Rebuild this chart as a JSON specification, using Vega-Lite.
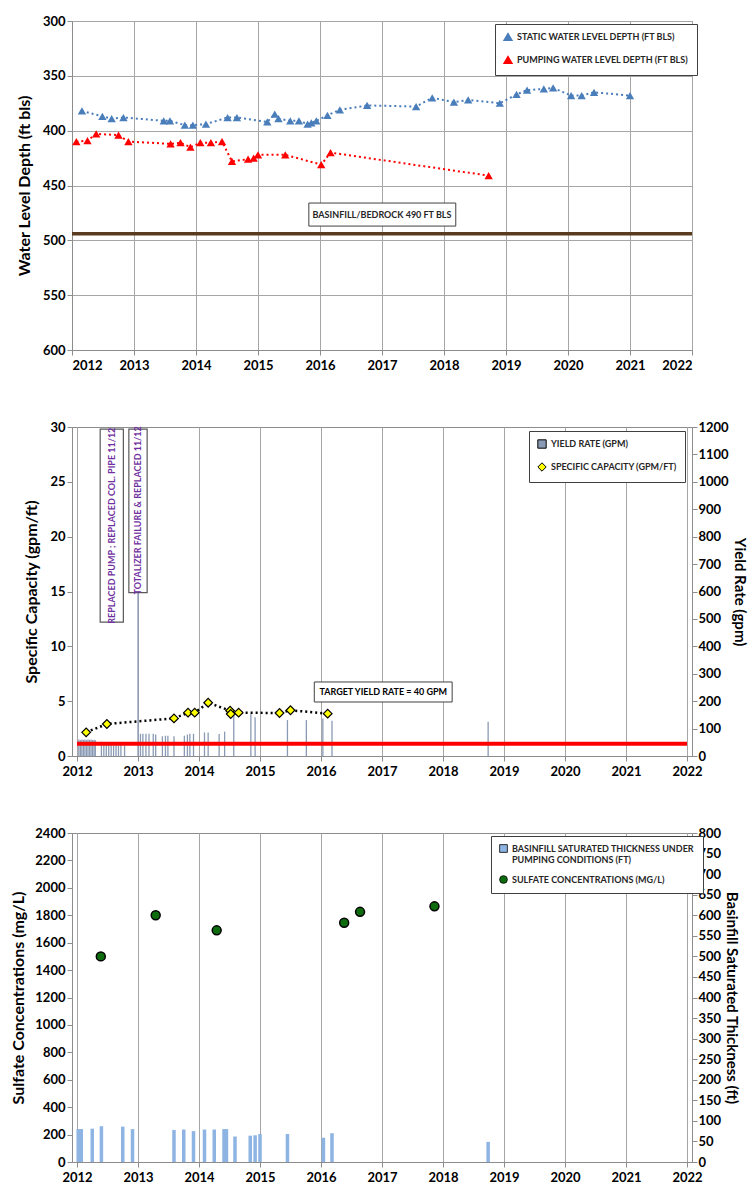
{
  "$schema": "https://vega.github.io/schema/vega-lite/v6.json",
  "background": "white",
  "padding": {"left": 10, "top": 14, "right": 3, "bottom": 5},
  "spacing": 47,
  "resolve": {"scale": {"color": "independent", "shape": "independent"}, "legend": {"color": "independent", "shape": "independent"}},
  "config": {
    "font": "Lato",
    "view": {"stroke": "#8c8c8c", "strokeWidth": 1},
    "axis": {
      "labelFont": "Lato", "labelFontWeight": "bold", "labelFontSize": 13, "labelColor": "#000000",
      "titleFont": "Lato", "titleFontWeight": "bold", "titleFontSize": 16, "titleColor": "#000000",
      "gridColor": "#a6a6a6", "gridWidth": 1, "gridOpacity": 1,
      "domainColor": "#8c8c8c", "tickColor": "#8c8c8c", "tickSize": 5
    },
    "legend": {
      "labelFont": "Lato", "labelFontWeight": "bold", "labelFontSize": 9, "labelColor": "#262626",
      "fillColor": "white", "strokeColor": "#404040", "padding": 8, "rowPadding": 9, "labelLimit": 400
    }
  },
  "datasets": {
    "levels": [
      {"year": 2012.16, "depth": 382, "series": "Static Water Level Depth (ft bls)"},
      {"year": 2012.49, "depth": 387, "series": "Static Water Level Depth (ft bls)"},
      {"year": 2012.64, "depth": 389, "series": "Static Water Level Depth (ft bls)"},
      {"year": 2012.83, "depth": 388, "series": "Static Water Level Depth (ft bls)"},
      {"year": 2013.48, "depth": 391, "series": "Static Water Level Depth (ft bls)"},
      {"year": 2013.58, "depth": 391, "series": "Static Water Level Depth (ft bls)"},
      {"year": 2013.82, "depth": 395, "series": "Static Water Level Depth (ft bls)"},
      {"year": 2013.95, "depth": 395, "series": "Static Water Level Depth (ft bls)"},
      {"year": 2014.16, "depth": 394, "series": "Static Water Level Depth (ft bls)"},
      {"year": 2014.51, "depth": 388, "series": "Static Water Level Depth (ft bls)"},
      {"year": 2014.66, "depth": 388, "series": "Static Water Level Depth (ft bls)"},
      {"year": 2015.15, "depth": 392, "series": "Static Water Level Depth (ft bls)"},
      {"year": 2015.27, "depth": 385, "series": "Static Water Level Depth (ft bls)"},
      {"year": 2015.33, "depth": 389, "series": "Static Water Level Depth (ft bls)"},
      {"year": 2015.52, "depth": 391, "series": "Static Water Level Depth (ft bls)"},
      {"year": 2015.66, "depth": 391, "series": "Static Water Level Depth (ft bls)"},
      {"year": 2015.80, "depth": 394, "series": "Static Water Level Depth (ft bls)"},
      {"year": 2015.86, "depth": 393, "series": "Static Water Level Depth (ft bls)"},
      {"year": 2015.94, "depth": 391, "series": "Static Water Level Depth (ft bls)"},
      {"year": 2016.12, "depth": 386, "series": "Static Water Level Depth (ft bls)"},
      {"year": 2016.32, "depth": 381, "series": "Static Water Level Depth (ft bls)"},
      {"year": 2016.76, "depth": 377, "series": "Static Water Level Depth (ft bls)"},
      {"year": 2017.55, "depth": 378, "series": "Static Water Level Depth (ft bls)"},
      {"year": 2017.81, "depth": 370, "series": "Static Water Level Depth (ft bls)"},
      {"year": 2018.16, "depth": 374, "series": "Static Water Level Depth (ft bls)"},
      {"year": 2018.39, "depth": 372, "series": "Static Water Level Depth (ft bls)"},
      {"year": 2018.90, "depth": 375, "series": "Static Water Level Depth (ft bls)"},
      {"year": 2019.17, "depth": 367, "series": "Static Water Level Depth (ft bls)"},
      {"year": 2019.34, "depth": 363, "series": "Static Water Level Depth (ft bls)"},
      {"year": 2019.61, "depth": 362, "series": "Static Water Level Depth (ft bls)"},
      {"year": 2019.76, "depth": 361, "series": "Static Water Level Depth (ft bls)"},
      {"year": 2020.05, "depth": 368, "series": "Static Water Level Depth (ft bls)"},
      {"year": 2020.22, "depth": 368, "series": "Static Water Level Depth (ft bls)"},
      {"year": 2020.42, "depth": 365, "series": "Static Water Level Depth (ft bls)"},
      {"year": 2021.00, "depth": 368, "series": "Static Water Level Depth (ft bls)"},
      {"year": 2012.07, "depth": 410, "series": "Pumping Water Level Depth (ft bls)"},
      {"year": 2012.25, "depth": 409, "series": "Pumping Water Level Depth (ft bls)"},
      {"year": 2012.39, "depth": 403, "series": "Pumping Water Level Depth (ft bls)"},
      {"year": 2012.75, "depth": 404, "series": "Pumping Water Level Depth (ft bls)"},
      {"year": 2012.91, "depth": 410, "series": "Pumping Water Level Depth (ft bls)"},
      {"year": 2013.59, "depth": 412, "series": "Pumping Water Level Depth (ft bls)"},
      {"year": 2013.75, "depth": 411, "series": "Pumping Water Level Depth (ft bls)"},
      {"year": 2013.91, "depth": 415, "series": "Pumping Water Level Depth (ft bls)"},
      {"year": 2014.07, "depth": 411, "series": "Pumping Water Level Depth (ft bls)"},
      {"year": 2014.24, "depth": 411, "series": "Pumping Water Level Depth (ft bls)"},
      {"year": 2014.42, "depth": 410, "series": "Pumping Water Level Depth (ft bls)"},
      {"year": 2014.58, "depth": 428, "series": "Pumping Water Level Depth (ft bls)"},
      {"year": 2014.84, "depth": 426, "series": "Pumping Water Level Depth (ft bls)"},
      {"year": 2014.93, "depth": 425, "series": "Pumping Water Level Depth (ft bls)"},
      {"year": 2015.00, "depth": 422, "series": "Pumping Water Level Depth (ft bls)"},
      {"year": 2015.44, "depth": 422, "series": "Pumping Water Level Depth (ft bls)"},
      {"year": 2016.02, "depth": 431, "series": "Pumping Water Level Depth (ft bls)"},
      {"year": 2016.17, "depth": 420, "series": "Pumping Water Level Depth (ft bls)"},
      {"year": 2018.72, "depth": 441, "series": "Pumping Water Level Depth (ft bls)"}
    ],
    "bedrock": [{"depth": 494}],
    "topBox": [{"year": 2015.82, "year2": 2018.19, "depth": 466, "depth2": 487, "label": "BASINFILL/BEDROCK 490 FT BLS", "xc": 2017.0, "yc": 476.5}],
    "yield": [
      {"year": 2012.03, "gpm": 60, "series": "Yield Rate (gpm)"},
      {"year": 2012.055, "gpm": 58, "series": "Yield Rate (gpm)"},
      {"year": 2012.08, "gpm": 60, "series": "Yield Rate (gpm)"},
      {"year": 2012.105, "gpm": 59, "series": "Yield Rate (gpm)"},
      {"year": 2012.13, "gpm": 60, "series": "Yield Rate (gpm)"},
      {"year": 2012.155, "gpm": 58, "series": "Yield Rate (gpm)"},
      {"year": 2012.18, "gpm": 60, "series": "Yield Rate (gpm)"},
      {"year": 2012.205, "gpm": 59, "series": "Yield Rate (gpm)"},
      {"year": 2012.23, "gpm": 60, "series": "Yield Rate (gpm)"},
      {"year": 2012.255, "gpm": 58, "series": "Yield Rate (gpm)"},
      {"year": 2012.28, "gpm": 59, "series": "Yield Rate (gpm)"},
      {"year": 2012.30, "gpm": 57, "series": "Yield Rate (gpm)"},
      {"year": 2012.40, "gpm": 52, "series": "Yield Rate (gpm)"},
      {"year": 2012.44, "gpm": 40, "series": "Yield Rate (gpm)"},
      {"year": 2012.48, "gpm": 42, "series": "Yield Rate (gpm)"},
      {"year": 2012.52, "gpm": 40, "series": "Yield Rate (gpm)"},
      {"year": 2012.56, "gpm": 40, "series": "Yield Rate (gpm)"},
      {"year": 2012.60, "gpm": 38, "series": "Yield Rate (gpm)"},
      {"year": 2012.64, "gpm": 40, "series": "Yield Rate (gpm)"},
      {"year": 2012.68, "gpm": 38, "series": "Yield Rate (gpm)"},
      {"year": 2012.72, "gpm": 40, "series": "Yield Rate (gpm)"},
      {"year": 2012.78, "gpm": 38, "series": "Yield Rate (gpm)"},
      {"year": 2013.00, "gpm": 1200, "series": "Yield Rate (gpm)"},
      {"year": 2013.04, "gpm": 81, "series": "Yield Rate (gpm)"},
      {"year": 2013.08, "gpm": 81, "series": "Yield Rate (gpm)"},
      {"year": 2013.13, "gpm": 81, "series": "Yield Rate (gpm)"},
      {"year": 2013.18, "gpm": 81, "series": "Yield Rate (gpm)"},
      {"year": 2013.25, "gpm": 81, "series": "Yield Rate (gpm)"},
      {"year": 2013.29, "gpm": 78, "series": "Yield Rate (gpm)"},
      {"year": 2013.40, "gpm": 72, "series": "Yield Rate (gpm)"},
      {"year": 2013.45, "gpm": 74, "series": "Yield Rate (gpm)"},
      {"year": 2013.49, "gpm": 74, "series": "Yield Rate (gpm)"},
      {"year": 2013.59, "gpm": 72, "series": "Yield Rate (gpm)"},
      {"year": 2013.76, "gpm": 74, "series": "Yield Rate (gpm)"},
      {"year": 2013.81, "gpm": 78, "series": "Yield Rate (gpm)"},
      {"year": 2013.85, "gpm": 81, "series": "Yield Rate (gpm)"},
      {"year": 2013.91, "gpm": 81, "series": "Yield Rate (gpm)"},
      {"year": 2014.09, "gpm": 86, "series": "Yield Rate (gpm)"},
      {"year": 2014.15, "gpm": 86, "series": "Yield Rate (gpm)"},
      {"year": 2014.33, "gpm": 80, "series": "Yield Rate (gpm)"},
      {"year": 2014.42, "gpm": 89, "series": "Yield Rate (gpm)"},
      {"year": 2014.57, "gpm": 153, "series": "Yield Rate (gpm)"},
      {"year": 2014.85, "gpm": 153, "series": "Yield Rate (gpm)"},
      {"year": 2014.92, "gpm": 141, "series": "Yield Rate (gpm)"},
      {"year": 2015.45, "gpm": 131, "series": "Yield Rate (gpm)"},
      {"year": 2015.76, "gpm": 131, "series": "Yield Rate (gpm)"},
      {"year": 2016.03, "gpm": 137, "series": "Yield Rate (gpm)"},
      {"year": 2016.18, "gpm": 129, "series": "Yield Rate (gpm)"},
      {"year": 2018.74, "gpm": 125, "series": "Yield Rate (gpm)"}
    ],
    "target": [{"year": 2012, "year2": 2022, "gpm": 45}],
    "targetBox": [{"year": 2015.89, "year2": 2018.15, "gpm": 197, "gpm2": 270, "xc": 2017.02, "yc": 233, "label": "TARGET YIELD RATE = 40 GPM"}],
    "capacity": [
      {"year": 2012.15, "cap": 2.16, "series": "Specific Capacity (gpm/ft)"},
      {"year": 2012.49, "cap": 2.92, "series": "Specific Capacity (gpm/ft)"},
      {"year": 2013.59, "cap": 3.43, "series": "Specific Capacity (gpm/ft)"},
      {"year": 2013.82, "cap": 3.95, "series": "Specific Capacity (gpm/ft)"},
      {"year": 2013.93, "cap": 3.95, "series": "Specific Capacity (gpm/ft)"},
      {"year": 2014.15, "cap": 4.86, "series": "Specific Capacity (gpm/ft)"},
      {"year": 2014.51, "cap": 4.13, "series": "Specific Capacity (gpm/ft)"},
      {"year": 2014.52, "cap": 3.83, "series": "Specific Capacity (gpm/ft)"},
      {"year": 2014.65, "cap": 3.95, "series": "Specific Capacity (gpm/ft)"},
      {"year": 2015.32, "cap": 3.92, "series": "Specific Capacity (gpm/ft)"},
      {"year": 2015.50, "cap": 4.17, "series": "Specific Capacity (gpm/ft)"},
      {"year": 2016.11, "cap": 3.86, "series": "Specific Capacity (gpm/ft)"}
    ],
    "notes": [
      {"year": 2012.38, "year2": 2012.76, "cap": 29.8, "cap2": 12.2, "xc": 2012.57, "yc": 21.0, "label": "REPLACED PUMP ; REPLACED COL. PIPE 11/12"},
      {"year": 2012.85, "year2": 2013.15, "cap": 29.8, "cap2": 14.9, "xc": 2013.0, "yc": 22.4, "label": "TOTALIZER FAILURE & REPLACED 11/12"}
    ],
    "thickness": [
      {"year": 2012.02, "ft": 80, "series": "Basinfill Saturated Thickness under Pumping Conditions (ft)"},
      {"year": 2012.07, "ft": 80, "series": "Basinfill Saturated Thickness under Pumping Conditions (ft)"},
      {"year": 2012.25, "ft": 81, "series": "Basinfill Saturated Thickness under Pumping Conditions (ft)"},
      {"year": 2012.40, "ft": 87, "series": "Basinfill Saturated Thickness under Pumping Conditions (ft)"},
      {"year": 2012.75, "ft": 86, "series": "Basinfill Saturated Thickness under Pumping Conditions (ft)"},
      {"year": 2012.91, "ft": 80, "series": "Basinfill Saturated Thickness under Pumping Conditions (ft)"},
      {"year": 2013.59, "ft": 78, "series": "Basinfill Saturated Thickness under Pumping Conditions (ft)"},
      {"year": 2013.75, "ft": 79, "series": "Basinfill Saturated Thickness under Pumping Conditions (ft)"},
      {"year": 2013.91, "ft": 75, "series": "Basinfill Saturated Thickness under Pumping Conditions (ft)"},
      {"year": 2014.09, "ft": 79, "series": "Basinfill Saturated Thickness under Pumping Conditions (ft)"},
      {"year": 2014.25, "ft": 79, "series": "Basinfill Saturated Thickness under Pumping Conditions (ft)"},
      {"year": 2014.41, "ft": 80, "series": "Basinfill Saturated Thickness under Pumping Conditions (ft)"},
      {"year": 2014.45, "ft": 80, "series": "Basinfill Saturated Thickness under Pumping Conditions (ft)"},
      {"year": 2014.59, "ft": 62, "series": "Basinfill Saturated Thickness under Pumping Conditions (ft)"},
      {"year": 2014.84, "ft": 64, "series": "Basinfill Saturated Thickness under Pumping Conditions (ft)"},
      {"year": 2014.92, "ft": 65, "series": "Basinfill Saturated Thickness under Pumping Conditions (ft)"},
      {"year": 2015.00, "ft": 68, "series": "Basinfill Saturated Thickness under Pumping Conditions (ft)"},
      {"year": 2015.45, "ft": 68, "series": "Basinfill Saturated Thickness under Pumping Conditions (ft)"},
      {"year": 2016.04, "ft": 59, "series": "Basinfill Saturated Thickness under Pumping Conditions (ft)"},
      {"year": 2016.18, "ft": 70, "series": "Basinfill Saturated Thickness under Pumping Conditions (ft)"},
      {"year": 2018.74, "ft": 49, "series": "Basinfill Saturated Thickness under Pumping Conditions (ft)"}
    ],
    "sulfate": [
      {"year": 2012.39, "mgl": 1500, "series": "Sulfate Concentrations (mg/L)"},
      {"year": 2013.29, "mgl": 1800, "series": "Sulfate Concentrations (mg/L)"},
      {"year": 2014.29, "mgl": 1690, "series": "Sulfate Concentrations (mg/L)"},
      {"year": 2016.38, "mgl": 1745, "series": "Sulfate Concentrations (mg/L)"},
      {"year": 2016.64, "mgl": 1825, "series": "Sulfate Concentrations (mg/L)"},
      {"year": 2017.86, "mgl": 1865, "series": "Sulfate Concentrations (mg/L)"}
    ]
  },
  "vconcat": [
    {
      "width": 620, "height": 329,
      "encoding": {
        "x": {"field": "year", "type": "quantitative", "scale": {"domain": [2012, 2022], "nice": false, "zero": false},
              "axis": {"values": [2012, 2013, 2014, 2015, 2016, 2017, 2018, 2019, 2020, 2021, 2022], "format": "d", "title": null, "labelPadding": 4}}
      },
      "layer": [
        {
          "data": {"name": "bedrock"},
          "mark": {"type": "rule", "stroke": "#5a3b1f", "strokeWidth": 3.5},
          "encoding": {"x": null, "y": {"field": "depth", "type": "quantitative"}}
        },
        {
          "data": {"name": "levels"},
          "mark": {"type": "line", "strokeDash": [2, 3], "strokeWidth": 2, "point": {"shape": "triangle-up", "filled": true, "size": 70}},
          "encoding": {
            "y": {"field": "depth", "type": "quantitative", "scale": {"domain": [300, 600], "reverse": true, "nice": false, "zero": false},
                  "axis": {"values": [300, 350, 400, 450, 500, 550, 600], "title": "Water Level Depth (ft bls)", "titlePadding": 10}},
            "color": {"field": "series", "type": "nominal",
                      "scale": {"domain": ["Static Water Level Depth (ft bls)", "Pumping Water Level Depth (ft bls)"], "range": ["#4a7ebb", "#ff0000"]},
                      "legend": {"orient": "none", "legendX": 423, "legendY": 3, "title": null, "labelExpr": "upper(datum.label)", "symbolType": "triangle-up", "symbolSize": 60}}
          }
        },
        {
          "data": {"name": "topBox"},
          "mark": {"type": "rect", "fill": "white", "stroke": "#404040", "strokeWidth": 1},
          "encoding": {"x2": {"field": "year2"}, "y": {"field": "depth", "type": "quantitative"}, "y2": {"field": "depth2"}}
        },
        {
          "data": {"name": "topBox"},
          "mark": {"type": "text", "fontSize": 9, "fontWeight": "bold", "color": "#262626"},
          "encoding": {"x": {"field": "xc", "type": "quantitative"}, "y": {"field": "yc", "type": "quantitative"}, "text": {"field": "label"}}
        }
      ]
    },
    {
      "width": 620, "height": 329,
      "layer": [
        {
          "encoding": {
            "x": {"field": "year", "type": "quantitative", "scale": {"domain": [2012, 2022], "nice": false, "zero": false},
                  "axis": {"values": [2012, 2013, 2014, 2015, 2016, 2017, 2018, 2019, 2020, 2021, 2022], "format": "d", "title": null, "labelPadding": 4}},
            "y": {"field": "gpm", "type": "quantitative", "scale": {"domain": [0, 1200], "nice": false, "zero": true},
                  "axis": {"orient": "right", "values": [0, 100, 200, 300, 400, 500, 600, 700, 800, 900, 1000, 1100, 1200], "format": "d", "title": "Yield Rate (gpm)", "titleFontSize": 15, "grid": false, "labelPadding": 1, "titlePadding": 3}}
          },
          "layer": [
            {
              "data": {"name": "yield"},
              "mark": {"type": "bar", "width": 1.3},
              "encoding": {
                "color": {"field": "series", "type": "nominal",
                          "scale": {"domain": ["Yield Rate (gpm)", "Specific Capacity (gpm/ft)"], "range": ["#8a9ab5", "#ffff00"]},
                          "legend": {"orient": "none", "legendX": 457, "legendY": 4, "title": null, "labelExpr": "upper(datum.label)", "symbolStrokeColor": "#404040", "symbolStrokeWidth": 1, "symbolSize": 70}}
              }
            },
            {
              "data": {"name": "target"},
              "mark": {"type": "rule", "color": "#ff0000", "strokeWidth": 4},
              "encoding": {"x2": {"field": "year2"}}
            },
            {
              "data": {"name": "targetBox"},
              "mark": {"type": "rect", "fill": "white", "stroke": "#404040", "strokeWidth": 1},
              "encoding": {"x2": {"field": "year2"}, "y2": {"field": "gpm2"}}
            },
            {
              "data": {"name": "targetBox"},
              "mark": {"type": "text", "fontSize": 9, "fontWeight": "bold", "color": "#000000"},
              "encoding": {"x": {"field": "xc", "type": "quantitative"}, "y": {"field": "yc", "type": "quantitative"}, "text": {"field": "label"}}
            }
          ]
        },
        {
          "encoding": {
            "x": {"field": "year", "type": "quantitative", "scale": {"domain": [2012, 2022], "nice": false, "zero": false}},
            "y": {"field": "cap", "type": "quantitative", "scale": {"domain": [0, 30], "nice": false, "zero": true},
                  "axis": {"values": [0, 5, 10, 15, 20, 25, 30], "title": "Specific Capacity (gpm/ft)", "titlePadding": 10}}
          },
          "layer": [
            {
              "data": {"name": "capacity"},
              "mark": {"type": "line", "color": "#000000", "strokeDash": [2, 3], "strokeWidth": 2.5}
            },
            {
              "data": {"name": "capacity"},
              "mark": {"type": "point", "filled": true, "size": 75, "stroke": "#000000", "strokeWidth": 1.2, "opacity": 1},
              "encoding": {
                "color": {"field": "series", "type": "nominal"},
                "shape": {"field": "series", "type": "nominal", "scale": {"domain": ["Yield Rate (gpm)", "Specific Capacity (gpm/ft)"], "range": ["square", "diamond"]}}
              }
            },
            {
              "data": {"name": "notes"},
              "mark": {"type": "rect", "fill": "white", "stroke": "#595959", "strokeWidth": 1.2},
              "encoding": {"x2": {"field": "year2"}, "y2": {"field": "cap2"}}
            },
            {
              "data": {"name": "notes"},
              "mark": {"type": "text", "fontSize": 9, "fontWeight": "bold", "color": "#7030a0", "angle": 270},
              "encoding": {"x": {"field": "xc", "type": "quantitative"}, "y": {"field": "yc", "type": "quantitative"}, "text": {"field": "label"}}
            }
          ]
        }
      ],
      "resolve": {"scale": {"y": "independent"}}
    },
    {
      "width": 620, "height": 329,
      "layer": [
        {
          "data": {"name": "thickness"},
          "mark": {"type": "bar", "width": 3.5},
          "encoding": {
            "x": {"field": "year", "type": "quantitative", "scale": {"domain": [2012, 2022], "nice": false, "zero": false},
                  "axis": {"values": [2012, 2013, 2014, 2015, 2016, 2017, 2018, 2019, 2020, 2021, 2022], "format": "d", "title": null, "labelPadding": 4}},
            "y": {"field": "ft", "type": "quantitative", "scale": {"domain": [0, 800], "nice": false},
                  "axis": {"orient": "right", "values": [0, 50, 100, 150, 200, 250, 300, 350, 400, 450, 500, 550, 600, 650, 700, 750, 800], "format": "d", "title": "Basinfill Saturated Thickness (ft)", "titleFontSize": 15, "grid": false, "labelPadding": 1, "titlePadding": 3}},
            "color": {"field": "series", "type": "nominal",
                      "scale": {"domain": ["Basinfill Saturated Thickness under Pumping Conditions (ft)", "Sulfate Concentrations (mg/L)"], "range": ["#8db4e2", "#0e6b0e"]},
                      "legend": {"orient": "none", "legendX": 419, "legendY": 3, "title": null, "symbolStrokeColor": "#000000", "symbolStrokeWidth": 0.8, "symbolSize": 60,
                                 "labelExpr": "datum.label == 'Sulfate Concentrations (mg/L)' ? 'SULFATE CONCENTRATIONS (MG/L)' : ['BASINFILL SATURATED THICKNESS UNDER', 'PUMPING CONDITIONS (FT)']"}}
          }
        },
        {
          "data": {"name": "sulfate"},
          "mark": {"type": "point", "filled": true, "size": 80, "stroke": "#000000", "strokeWidth": 1.5, "opacity": 1},
          "encoding": {
            "x": {"field": "year", "type": "quantitative", "scale": {"domain": [2012, 2022], "nice": false, "zero": false}},
            "y": {"field": "mgl", "type": "quantitative", "scale": {"domain": [0, 2400], "nice": false},
                  "axis": {"values": [0, 200, 400, 600, 800, 1000, 1200, 1400, 1600, 1800, 2000, 2200, 2400], "format": "d", "title": "Sulfate Concentrations (mg/L)", "titlePadding": 8}},
            "color": {"field": "series", "type": "nominal"},
            "shape": {"field": "series", "type": "nominal", "scale": {"domain": ["Basinfill Saturated Thickness under Pumping Conditions (ft)", "Sulfate Concentrations (mg/L)"], "range": ["square", "circle"]}}
          }
        }
      ],
      "resolve": {"scale": {"y": "independent"}}
    }
  ]
}
